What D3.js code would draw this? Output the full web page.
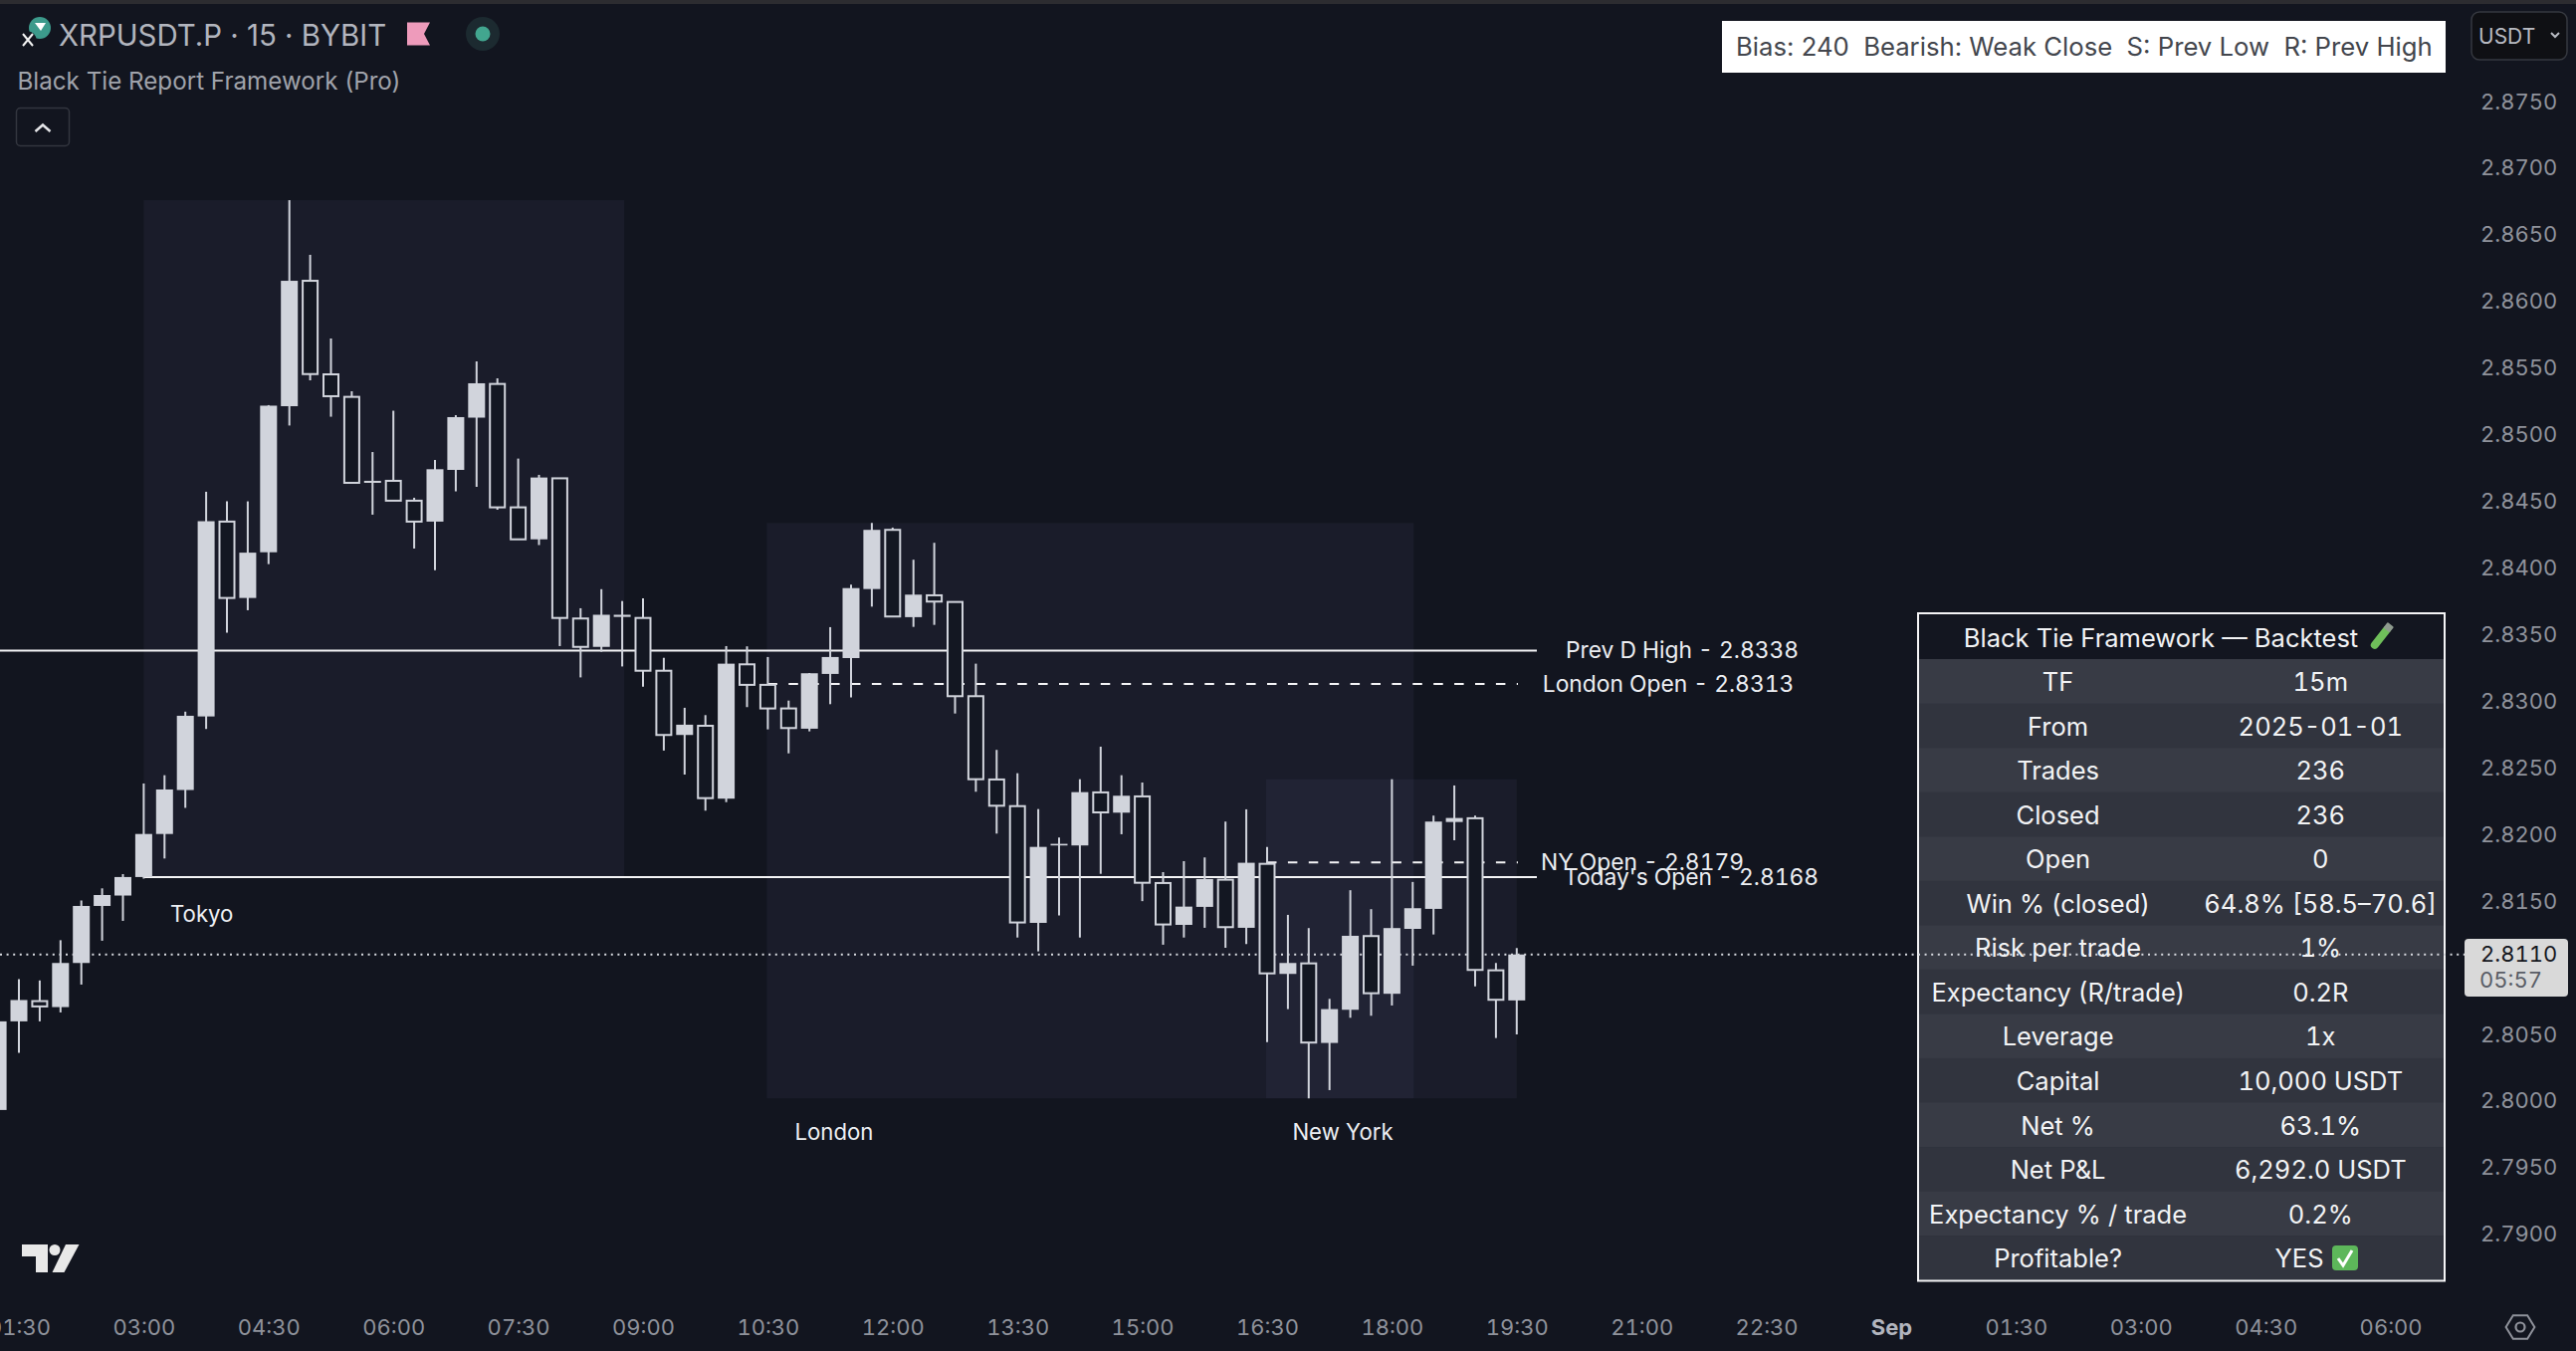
<!DOCTYPE html>
<html>
<head>
<meta charset="utf-8">
<script src="https://cdn.jsdelivr.net/npm/d3@7/dist/d3.min.js"></script>
<style>
html,body{margin:0;padding:0;background:#12151f;}
svg{display:block;}
text{font-family:Inter,"Noto Sans",sans-serif;}
.tnum{font-variant-numeric:tabular-nums;}
</style>
</head>
<body>
<script>
// ---- data ----
const firstBarIndex = -7; // bars counted from 03:00 on the 15-minute grid
const candleOpen = [2.79933,2.80598,2.8075,2.80705,2.81036,2.81464,2.81542,2.81681,2.82004,2.82334,2.82886,2.84348,2.83775,2.84118,2.85214,2.86155,2.85453,2.85284,2.84639,2.84654,2.84505,2.84348,2.84736,2.85128,2.85381,2.84455,2.84215,2.84673,2.83621,2.83408,2.83633,2.83625,2.83229,2.82747,2.82816,2.82269,2.83277,2.83123,2.82946,2.82794,2.83205,2.83324,2.83842,2.84286,2.83631,2.83795,2.83745,2.83038,2.82413,2.82213,2.81337,2.81918,2.81918,2.82316,2.82164,2.82286,2.81636,2.81322,2.81457,2.81661,2.813,2.8178,2.80954,2.81033,2.80436,2.80685,2.81238,2.80805,2.81292,2.81442,2.82094,2.82122,2.80981,2.80755];
const candleHigh = [2.80598,2.80914,2.80905,2.81207,2.81505,2.81596,2.81703,2.82383,2.82445,2.82922,2.84572,2.845,2.845,2.85222,2.8676,2.8635,2.85722,2.85326,2.8487,2.8518,2.84527,2.84811,2.85147,2.8555,2.85423,2.84821,2.84699,2.84676,2.83698,2.83841,2.83752,2.83772,2.83326,2.82951,2.82896,2.83414,2.83412,2.83332,2.83005,2.83212,2.83556,2.83875,2.84338,2.84303,2.84062,2.84189,2.83745,2.83282,2.82635,2.8246,2.82191,2.81977,2.82415,2.82659,2.82445,2.8239,2.81718,2.818,2.81828,2.82097,2.82189,2.81907,2.81397,2.81298,2.80767,2.81582,2.8144,2.82415,2.81644,2.82142,2.82368,2.82142,2.81036,2.81148];
const candleLow = [2.79933,2.80362,2.80598,2.80665,2.80874,2.81203,2.81352,2.81669,2.8182,2.822,2.82792,2.83515,2.83683,2.84029,2.85069,2.85408,2.85135,2.84639,2.844,2.84505,2.84146,2.83984,2.84575,2.84609,2.84437,2.84215,2.84172,2.83414,2.83179,2.83371,2.83261,2.8311,2.8263,2.8245,2.82179,2.82243,2.82956,2.82789,2.82609,2.82774,2.82978,2.83028,2.8371,2.83636,2.83558,2.83573,2.82908,2.82321,2.82007,2.81227,2.81123,2.81392,2.81227,2.81705,2.82002,2.815,2.81173,2.81227,2.813,2.8115,2.81178,2.80443,2.8069,2.8002,2.80082,2.80625,2.8064,2.80717,2.81016,2.8125,2.81957,2.80861,2.80473,2.805];
const candleClose = [2.80598,2.80758,2.8071,2.81036,2.81464,2.81546,2.81681,2.82004,2.82338,2.82891,2.84351,2.83775,2.84115,2.85218,2.86155,2.85455,2.85289,2.84639,2.84654,2.84505,2.84348,2.84741,2.85132,2.85386,2.84455,2.84215,2.84679,2.83625,2.83408,2.83649,2.83649,2.83229,2.82747,2.82824,2.82273,2.83282,2.83123,2.82946,2.82799,2.8321,2.83332,2.83849,2.84286,2.83636,2.838,2.83748,2.83038,2.82415,2.82216,2.8134,2.81907,2.8193,2.82318,2.82166,2.82291,2.81638,2.81325,2.81459,2.81666,2.81305,2.81788,2.80958,2.81036,2.80439,2.8069,2.8124,2.80809,2.81298,2.81447,2.82097,2.82124,2.80984,2.8076,2.811];

const sessionNames = ["Tokyo","London","New York"];
const sessionStart = [0,29.95,53.95];
const sessionEnd = [23.1,61.05,66];
const sessionTop = [2.8676,2.84338,2.82415];
const sessionBottom = [2.8168,2.8002,2.8002];

const levelNames = ["Prev D High - 2.8338","London Open - 2.8313","NY Open - 2.8179","Today's Open - 2.8168"];
const levelPrices = [2.8338,2.8313,2.8179,2.8168];
const levelFrom = [-7,30,54,0];
const levelDashed = [false,true,true,false];

const priceTicks = [2.875,2.87,2.865,2.86,2.855,2.85,2.845,2.84,2.835,2.83,2.825,2.82,2.815,2.805,2.80,2.795,2.79];
const timeTicks = [-6,0,6,12,18,24,30,36,42,48,54,60,66,72,78,84,90,96,102,108];
const timeLabels = ["01:30","03:00","04:30","06:00","07:30","09:00","10:30","12:00","13:30","15:00","16:30","18:00","19:30","21:00","22:30","Sep","01:30","03:00","04:30","06:00"];
const lastPrice = 2.811;

const tableTitle = "Black Tie Framework — Backtest";
const tableLabels = ["TF","From","Trades","Closed","Open","Win % (closed)","Risk per trade","Expectancy (R/trade)","Leverage","Capital","Net %","Net P&L","Expectancy % / trade","Profitable?"];
const tableValues = ["15m","2025-01-01","236","236","0","64.8% [58.5–70.6]","1%","0.2R","1x","10,000 USDT","63.1%","6,292.0 USDT","0.2%","YES"];
const bannerText = "Bias: 240  Bearish: Weak Close  S: Prev Low  R: Prev High";

// ---- scales ----
const W = 2588, H = 1357;
const x = d3.scaleLinear().domain([0,108]).range([144.4,144.4+108*20.9]);
const y = d3.scaleLinear().domain([2.875,2.79]).range([102,1239.8]);
const candles = candleOpen.map((o,i)=>({i:i+firstBarIndex,o,h:candleHigh[i],l:candleLow[i],c:candleClose[i]}));

const svg = d3.select("body").append("svg").attr("width",W).attr("height",H);
const bg="#12151f", candleCol="#d1d4dc";
svg.append("rect").attr("width",W).attr("height",H).attr("fill",bg);
svg.append("rect").attr("width",W).attr("height",4).attr("fill","#2c2c30");

// sessions
svg.append("g").selectAll("rect").data(sessionNames).join("rect")
  .attr("x",(d,i)=>x(sessionStart[i])).attr("width",(d,i)=>x(sessionEnd[i])-x(sessionStart[i]))
  .attr("y",(d,i)=>y(sessionTop[i])).attr("height",(d,i)=>y(sessionBottom[i])-y(sessionTop[i]))
  .attr("fill","#b2b5fb").attr("fill-opacity",0.05);

// level lines
svg.append("g").selectAll("line").data(levelPrices).join("line")
  .attr("x1",(d,i)=>Math.max(0,x(levelFrom[i]))).attr("x2",(d,i)=>levelDashed[i]?1525:1544)
  .attr("y1",d=>y(d)).attr("y2",d=>y(d))
  .attr("stroke","#f4f4f6").attr("stroke-width",2)
  .attr("stroke-dasharray",(d,i)=>levelDashed[i]?"9.5 11.4":null);

// last price dotted line under the candles
const dotted = g=>g.attr("y1",y(lastPrice)).attr("y2",y(lastPrice)).attr("stroke","#d8dae0")
  .attr("stroke-width",2).attr("stroke-dasharray","2 4.6");
svg.append("line").attr("x1",0).attr("x2",1926).call(dotted);

// candles
const cg = svg.append("g");
cg.selectAll("line").data(candles).join("line")
  .attr("x1",d=>x(d.i)).attr("x2",d=>x(d.i)).attr("y1",d=>y(d.h)).attr("y2",d=>y(d.l))
  .attr("stroke",candleCol).attr("stroke-width",2);
cg.selectAll("rect").data(candles).join("rect")
  .attr("x",d=>x(d.i)-(d.c>=d.o?8.5:7.5)).attr("width",d=>d.c>=d.o?17:15)
  .attr("y",d=>y(Math.max(d.o,d.c))).attr("height",d=>Math.max(1.5,Math.abs(y(d.o)-y(d.c))))
  .attr("fill",d=>d.c>=d.o?candleCol:"#131722")
  .attr("stroke",d=>d.c>=d.o?"none":candleCol).attr("stroke-width",2);

// level and session labels
svg.append("g").selectAll("text").data(levelNames).join("text").attr("class","tnum")
  .attr("x",(d,i)=>[1690,1676,1650,1699][i]).attr("y",(d,i)=>y(levelPrices[i])+8)
  .attr("text-anchor","middle").attr("font-size",22.8).attr("fill","#eceef2").text(d=>d);
svg.append("g").selectAll("text").data(sessionNames).join("text")
  .attr("x",(d,i)=>[202.7,838,1349][i]).attr("y",(d,i)=>[926,1145,1145][i])
  .attr("text-anchor","middle").attr("font-size",22.2).attr("fill","#eceef2").text(d=>d);

// axes
const axisStyle = g=>{ g.select(".domain").remove(); g.selectAll("line").remove();
  g.selectAll("text").attr("class","tnum").attr("font-family","Inter").attr("font-size",22).attr("fill","#8f929b"); };
svg.append("g").attr("transform","translate(2492,0)")
  .call(d3.axisRight(y).tickValues(priceTicks).tickSize(0).tickPadding(0).tickFormat(d3.format(".4f")))
  .call(axisStyle);
svg.append("g").attr("transform","translate(0,1325)")
  .call(d3.axisBottom(x).tickValues(timeTicks).tickSize(0).tickPadding(0).tickFormat((d,i)=>timeLabels[i]))
  .call(axisStyle)
  .selectAll("text").filter(t=>t===84).attr("font-weight",700).attr("fill","#b2b5be");

// last price tag
svg.append("rect").attr("x",2476).attr("y",943).attr("width",104).attr("height",58).attr("rx",4).attr("fill","#d9d9d9");
svg.append("text").attr("class","tnum").attr("x",2492).attr("y",966).attr("font-size",22).attr("fill","#16181f").text(d3.format(".4f")(lastPrice));
svg.append("text").attr("class","tnum").attr("x",2491).attr("y",992).attr("font-size",22).attr("fill","#5a5d66").text("05:57");

// backtest table
const tx0=1927, tx1=2456, ty0=616, headH=46, rowH=44.55;
const tg = svg.append("g");
tg.append("rect").attr("x",tx0).attr("y",ty0).attr("width",tx1-tx0).attr("height",headH).attr("fill","#131620");
tg.selectAll("rect.row").data(tableLabels).join("rect").attr("class","row")
  .attr("x",tx0).attr("width",tx1-tx0).attr("y",(d,i)=>ty0+headH+i*rowH).attr("height",rowH+0.5)
  .attr("fill",(d,i)=>i%2?"#31343e":"#383b45");
svg.append("line").attr("x1",tx0).attr("x2",2476).call(dotted);
tg.append("rect").attr("x",tx0).attr("y",ty0).attr("width",tx1-tx0).attr("height",1286.5-ty0)
  .attr("fill","none").attr("stroke","#f4f4f6").attr("stroke-width",2);
const tableFont=25.5;
svg.append("text").attr("x",2171).attr("y",ty0+33.5).attr("text-anchor","middle").attr("font-size",tableFont).attr("fill","#f2f3f5").text(tableTitle);
svg.append("g").selectAll("text").data(tableLabels).join("text")
  .attr("x",2067.6).attr("y",(d,i)=>ty0+headH+i*rowH+32).attr("text-anchor","middle").attr("font-size",tableFont).attr("fill","#f2f3f5").text(d=>d);
svg.append("g").selectAll("text").data(tableValues).join("text").attr("class","tnum")
  .attr("x",(d,i)=>i===13?2310:2331.3).attr("y",(d,i)=>ty0+headH+i*rowH+32).attr("text-anchor","middle").attr("font-size",tableFont).attr("fill","#f2f3f5").text(d=>d);
// test tube and check mark glyphs
const tube=svg.append("g").attr("transform","translate(2392,640) rotate(38)");
tube.append("rect").attr("x",-4).attr("y",-14).attr("width",8).attr("height",28).attr("rx",4).attr("fill","#6fbf5a");
tube.append("rect").attr("x",-4).attr("y",-16).attr("width",8).attr("height",7).attr("rx",1).attr("fill","#8e9a8e");
svg.append("rect").attr("x",2343).attr("y",1251).attr("width",26).attr("height",25).attr("rx",4).attr("fill","#5db75a");
svg.append("path").attr("d","M2349 1264l5 7l9-15").attr("fill","none").attr("stroke","#fff").attr("stroke-width",3);

// banner
svg.append("rect").attr("x",1730).attr("y",21).attr("width",727).attr("height",52).attr("fill","#ffffff");
svg.append("text").attr("x",1744).attr("y",56).attr("xml:space","preserve").style("white-space","pre").attr("font-size",25.7).attr("fill","#43464d").text(bannerText);

// USDT button
svg.append("rect").attr("x",2483).attr("y",12).attr("width",96).attr("height",48).attr("rx",8).attr("fill","#0f1014").attr("stroke","#363940").attr("stroke-width",1.5);
svg.append("text").attr("x",2490).attr("y",44).attr("font-size",21).attr("fill","#b8bbc3").text("USDT");
svg.append("path").attr("d","M2563 33l4 4l4-4").attr("fill","none").attr("stroke","#b8bbc3").attr("stroke-width",2);

// header
svg.append("text").attr("x",59).attr("y",46).attr("font-size",29.4).attr("fill","#b2b5be").text("XRPUSDT.P · 15 · BYBIT");
svg.append("text").attr("x",17.5).attr("y",90).attr("font-size",24.2).attr("fill","#a0a3ab").text("Black Tie Report Framework (Pro)");
svg.append("path").attr("d","M409 22.5h23l-6 11.5l6 11.5h-23z").attr("fill","#ee9bbb");
svg.append("circle").attr("cx",485).attr("cy",34).attr("r",17).attr("fill","#1c2a30");
svg.append("circle").attr("cx",485).attr("cy",34).attr("r",7.5).attr("fill","#42a68f");
svg.append("circle").attr("cx",40).attr("cy",28).attr("r",11).attr("fill","#3c9a8b");
svg.append("path").attr("d","M35 23h11l-5 8z").attr("fill","#ffffff");
svg.append("circle").attr("cx",28).attr("cy",40).attr("r",8.5).attr("fill",bg);
svg.append("path").attr("d","M23 34l10 12M33 34l-10 12").attr("stroke","#f2f2f2").attr("stroke-width",2);
svg.append("rect").attr("x",16.5).attr("y",108.5).attr("width",53).attr("height",38).attr("rx",4).attr("fill","none").attr("stroke","#33363f").attr("stroke-width",1.5);
svg.append("path").attr("d","M35.5 132l7.5-6.5l7.5 6.5").attr("fill","none").attr("stroke","#e4e5e8").attr("stroke-width",2.5);

// TradingView mark
svg.append("path").attr("d","M22 1250h26v28h-12v-16h-14z").attr("fill","#e8e8e8");
svg.append("circle").attr("cx",55).attr("cy",1255.5).attr("r",5.5).attr("fill","#e8e8e8");
svg.append("path").attr("d","M66 1250h13.5l-15 28h-12z").attr("fill","#e8e8e8");

// gear
svg.append("path").attr("d","M2524 1320h16l8 13l-8 13h-16l-8-13z").attr("transform","translate(2532,1333) scale(0.9) translate(-2532,-1333)")
  .attr("fill","none").attr("stroke","#8f929b").attr("stroke-width",2.2);
svg.append("circle").attr("cx",2532).attr("cy",1333).attr("r",4.5).attr("fill","none").attr("stroke","#8f929b").attr("stroke-width",2.2);
</script>
</body>
</html>
